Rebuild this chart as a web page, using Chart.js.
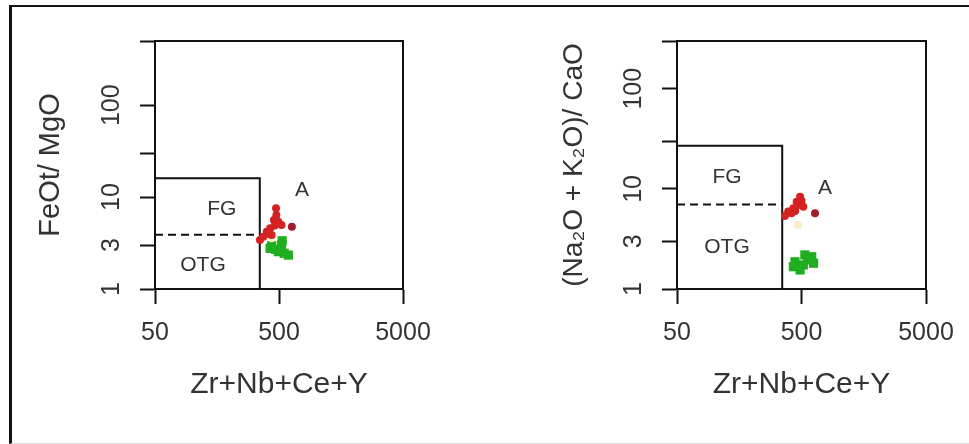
<!DOCTYPE html>
<html>
<head>
<meta charset="utf-8">
<script src="https://cdn.jsdelivr.net/npm/chart.js@4/dist/chart.umd.min.js"></script>
<style>
	body { margin: 0; background: #fff; width: 969px; height: 444px; overflow: hidden; position: relative; }
	#frame { position: absolute; left: 9px; top: 5px; width: 975px; height: 436px; border-left: 3px solid #111; border-top: 2px solid #111; border-bottom: 1px solid #ddd; }
	canvas { position: absolute; }
</style>
</head>
<body>
<div id="frame"></div>
<canvas id="feo" width="470" height="432" style="left:12px;top:8px"></canvas>
<canvas id="alk" width="485" height="432" style="left:484px;top:8px"></canvas>
<script>
const FONT = '"Liberation Sans", Arial, sans-serif';

// shared x axis: Zr+Nb+Ce+Y (ppm)
const xTicks = [50, 500, 5000];

// FeOt/MgO panel
const feoTicks = [1, 3, 10, 30, 100, 500];
const feoTickLabels = [1, 3, 10, 100];
const feoRedX = [473, 476, 455, 494, 524, 424, 398, 373, 351, 436, 410, 462];
const feoRedY = [7.55, 6.4, 5.63, 5.4, 4.97, 4.58, 4.2, 3.71, 3.41, 3.87, 4.0, 4.9];
const feoDarkX = [635];
const feoDarkY = [4.76];
const feoPaleX = [436];
const feoPaleY = [3.56];
const feoGreenX = [436, 530, 524, 424, 494, 550, 595, 470];
const feoGreenY = [2.96, 3.35, 3.0, 2.77, 2.55, 2.45, 2.34, 2.7];
const feoBoxX = [50, 350, 350];
const feoBoxY = [16, 16, 1];
const feoSplitX = [50, 350];
const feoSplitY = [3.9, 3.9];
const feoFieldX = [173, 122, 765];
const feoFieldY = [7.3, 1.83, 12];

// (Na2O+K2O)/CaO panel
const alkTicks = [1, 3, 10, 30, 100, 300];
const alkTickLabels = [1, 3, 10, 100];
const alkRedX = [487, 457, 470, 517, 430, 416, 391, 368, 445, 500];
const alkRedY = [8.36, 7.45, 6.9, 6.64, 6.4, 5.7, 5.93, 5.36, 6.0, 7.6];
const alkDarkX = [642];
const alkDarkY = [5.7];
const alkPaleX = [470];
const alkPaleY = [4.36];
const alkGreenX = [443, 517, 604, 532, 487, 430, 625, 560];
const alkGreenY = [1.87, 1.74, 2.1, 2.19, 1.55, 1.67, 1.81, 1.95];
const alkBoxX = [50, 350, 350];
const alkBoxY = [27, 27, 1];
const alkSplitX = [50, 350];
const alkSplitY = [7, 7];
const alkFieldX = [126, 126, 772];
const alkFieldY = [13.2, 2.63, 10.2];

const fieldNames = ['FG', 'OTG', 'A'];

const pts = (xs, ys) => xs.map((x, i) => ({ x: x, y: ys[i] }));

// writes the field names (FG, OTG, A) at data coordinates
const fieldLabels = {
	id: 'fieldLabels',
	afterDatasetsDraw(chart, args, opts) {
		const { ctx, scales } = chart;
		ctx.save();
		ctx.font = '21px ' + FONT;
		ctx.fillStyle = '#333';
		ctx.textAlign = 'center';
		ctx.textBaseline = 'middle';
		opts.names.forEach((n, i) => {
			ctx.fillText(n, scales.x.getPixelForValue(opts.xs[i]), scales.y.getPixelForValue(opts.ys[i]));
		});
		ctx.restore();
	}
};

function setTicks (values, min, max) {
	return (s) => {
		s.min = min;
		s.max = max;
		s.ticks = values.map((v) => ({ value: v }));
	};
}

function frameAxis (position, min, max) {
	return {
		type: 'logarithmic',
		position: position,
		min: min,
		max: max,
		ticks: { display: false },
		grid: { display: false },
		border: { display: true, color: '#111', width: 2 },
		afterFit: (s) => { if (s.isHorizontal()) s.height = 0; else s.width = 0; }
	};
}

function buildPanel (canvasId, p) {
	const line = { type: 'line', showLine: true, pointRadius: 0, borderColor: '#111', borderWidth: 2, fill: false };
	const datasets = [
		{ data: pts(p.redX, p.redY), backgroundColor: '#d42222', pointRadius: 4, borderWidth: 0 },
		{ data: pts(p.darkX, p.darkY), backgroundColor: '#a11d2e', pointRadius: 4, borderWidth: 0 },
		{ data: pts(p.paleX, p.paleY), backgroundColor: '#fbecc8', pointRadius: 4, borderWidth: 0 },
		{ data: pts(p.greenX, p.greenY), backgroundColor: '#1fae1f', pointStyle: 'rect', pointRadius: 6.5, borderWidth: 0 },
		Object.assign({ data: pts(p.boxX, p.boxY) }, line),
		Object.assign({ data: pts(p.splitX, p.splitY), borderDash: [8, 5] }, line)
	];

	return new Chart(document.getElementById(canvasId), {
		type: 'scatter',
		data: { datasets: datasets },
		plugins: [fieldLabels],
		options: {
			responsive: false,
			animation: false,
			events: [],
			layout: { padding: { left: 0, top: 33, right: p.padRight, bottom: 0 } },
			plugins: {
				legend: { display: false },
				tooltip: { enabled: false },
				fieldLabels: { names: fieldNames, xs: p.fieldX, ys: p.fieldY }
			},
			scales: {
				x: {
					type: 'logarithmic',
					position: 'bottom',
					min: 50,
					max: 5000,
					afterBuildTicks: setTicks(xTicks, 50, 5000),
					afterFit: (s) => { s.height = 151; },
					ticks: {
						color: '#333',
						font: { size: 25, family: FONT },
						padding: 14,
						maxRotation: 0,
						autoSkip: false,
						callback: (v) => String(v)
					},
					grid: { drawOnChartArea: false, tickLength: 15, tickColor: '#111', tickWidth: 2 },
					border: { display: true, color: '#111', width: 2 },
					title: {
						display: true,
						text: 'Zr+Nb+Ce+Y',
						color: '#333',
						font: { size: 30, family: FONT },
						padding: { top: 0, bottom: 37 }
					}
				},
				y: {
					type: 'logarithmic',
					position: 'left',
					min: 1,
					max: p.yMax,
					afterBuildTicks: setTicks(p.yTicks, 1, p.yMax),
					afterFit: (s) => { s.width = p.axisWidth; },
					ticks: {
						color: '#333',
						font: { size: 25, family: FONT },
						padding: 7,
						minRotation: 90,
						maxRotation: 90,
						crossAlign: 'center',
						autoSkip: false,
						callback: (v) => (p.yLabels.includes(v) ? String(v) : '')
					},
					grid: { drawOnChartArea: false, tickLength: 15, tickColor: '#111', tickWidth: 2 },
					border: { display: true, color: '#111', width: 2 },
					title: {
						display: true,
						text: p.yTitle,
						color: '#333',
						font: { size: p.titleSize, family: FONT },
						padding: { top: p.titlePad, bottom: 0 }
					}
				},
				x2: frameAxis('top', 50, 5000),
				y2: frameAxis('right', 1, p.yMax)
			}
		}
	});
}

buildPanel('feo', {
	redX: feoRedX, redY: feoRedY, darkX: feoDarkX, darkY: feoDarkY,
	paleX: feoPaleX, paleY: feoPaleY, greenX: feoGreenX, greenY: feoGreenY,
	boxX: feoBoxX, boxY: feoBoxY, splitX: feoSplitX, splitY: feoSplitY,
	fieldX: feoFieldX, fieldY: feoFieldY,
	yTicks: feoTicks, yLabels: feoTickLabels, yMax: 500,
	yTitle: 'FeOt/ MgO', titleSize: 29, titlePad: 22,
	axisWidth: 143, padRight: 79
});

buildPanel('alk', {
	redX: alkRedX, redY: alkRedY, darkX: alkDarkX, darkY: alkDarkY,
	paleX: alkPaleX, paleY: alkPaleY, greenX: alkGreenX, greenY: alkGreenY,
	boxX: alkBoxX, boxY: alkBoxY, splitX: alkSplitX, splitY: alkSplitY,
	fieldX: alkFieldX, fieldY: alkFieldY,
	yTicks: alkTicks, yLabels: alkTickLabels, yMax: 300,
	yTitle: '(Na\u2082O + K\u2082O)/ CaO', titleSize: 28, titlePad: 73,
	axisWidth: 193, padRight: 43
});
</script>
</body>
</html>
